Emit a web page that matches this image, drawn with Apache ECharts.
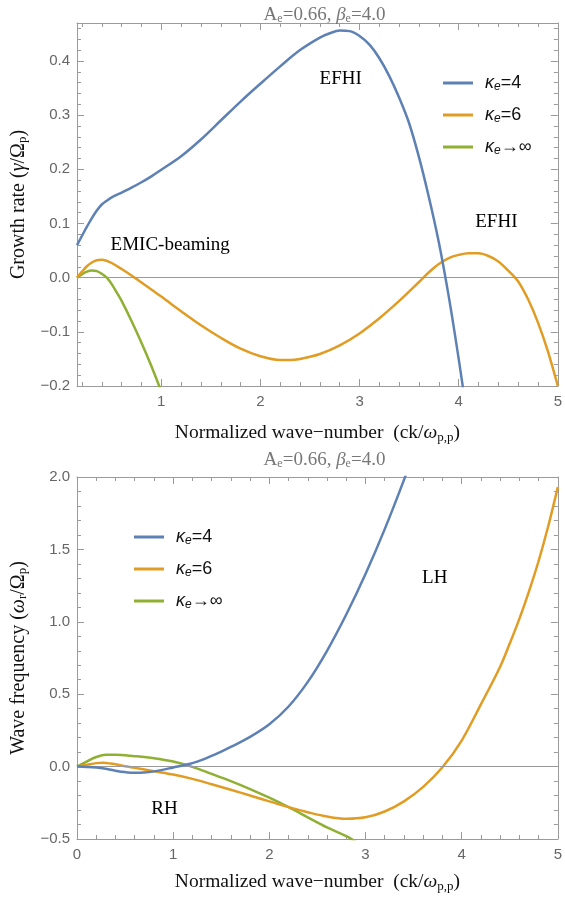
<!DOCTYPE html>
<html><head><meta charset="utf-8">
<script src="https://cdn.jsdelivr.net/npm/echarts@6/dist/echarts.min.js"></script>
<style>html,body{margin:0;padding:0;background:#fff}#c{width:565px;height:900px}</style>
</head><body><div id="c"></div>
<script>
// ---------- data ----------
const seriesNames = ['k4', 'k6', 'kinf'];
const colors = ['#5E81B5', '#E19C24', '#8FB032'];

// Growth rate (top panel)
const gammaK4X = [0.15,0.2,0.25,0.3,0.35,0.4,0.45,0.5,0.6,0.7,0.8,0.9,1.0,1.2,1.4,1.6,1.8,2.0,2.2,2.4,2.6,2.7,2.8,2.9,3.0,3.1,3.2,3.3,3.4,3.5,3.6,3.7,3.8,3.9,4.0,4.1];
const gammaK4Y = [0.060,0.077,0.094,0.110,0.124,0.135,0.142,0.148,0.157,0.166,0.176,0.187,0.199,0.224,0.255,0.290,0.325,0.358,0.390,0.420,0.443,0.451,0.456,0.455,0.446,0.430,0.405,0.372,0.332,0.285,0.222,0.148,0.065,-0.035,-0.150,-0.275];
const gammaK6X = [0.15,0.2,0.25,0.3,0.35,0.4,0.45,0.5,0.6,0.7,0.8,0.9,1.0,1.2,1.4,1.6,1.8,2.0,2.2,2.3,2.4,2.6,2.8,3.0,3.2,3.4,3.6,3.7,3.8,3.9,4.0,4.1,4.2,4.3,4.4,4.5,4.6,4.7,4.8,4.9,5.0];
const gammaK6Y = [0.000,0.011,0.021,0.028,0.032,0.033,0.031,0.027,0.016,0.004,-0.009,-0.022,-0.035,-0.062,-0.088,-0.111,-0.131,-0.145,-0.152,-0.152,-0.150,-0.141,-0.125,-0.103,-0.075,-0.043,-0.008,0.010,0.025,0.036,0.042,0.045,0.045,0.040,0.030,0.013,-0.007,-0.040,-0.083,-0.136,-0.200];
const gammaKinfX = [0.15,0.2,0.25,0.3,0.35,0.4,0.45,0.5,0.55,0.6,0.7,0.8,0.9,1.0,1.05];
const gammaKinfY = [0.000,0.006,0.011,0.013,0.012,0.007,0.000,-0.012,-0.027,-0.043,-0.080,-0.120,-0.163,-0.210,-0.235];

// Wave frequency (bottom panel)
const omegaK4X = [0,0.1,0.2,0.3,0.4,0.5,0.6,0.7,0.8,0.9,1.0,1.1,1.2,1.3,1.4,1.5,1.6,1.8,2.0,2.2,2.4,2.6,2.8,3.0,3.2,3.4,3.5];
const omegaK4Y = [0,-0.002,-0.006,-0.015,-0.028,-0.038,-0.043,-0.041,-0.033,-0.021,-0.006,0.008,0.024,0.046,0.074,0.104,0.136,0.205,0.292,0.415,0.585,0.800,1.050,1.330,1.640,1.980,2.170];
const omegaK6X = [0,0.1,0.2,0.27,0.35,0.5,0.6,0.8,1.0,1.2,1.4,1.6,1.8,2.0,2.2,2.4,2.6,2.8,3.0,3.2,3.4,3.6,3.8,4.0,4.2,4.4,4.5,4.6,4.7,4.8,4.9,5.0];
const omegaK6Y = [0,0.012,0.024,0.027,0.021,0.003,-0.008,-0.032,-0.055,-0.085,-0.122,-0.160,-0.200,-0.240,-0.280,-0.315,-0.345,-0.360,-0.350,-0.310,-0.240,-0.140,-0.005,0.180,0.430,0.690,0.850,1.020,1.210,1.420,1.660,1.930];
const omegaKinfX = [0,0.1,0.2,0.3,0.4,0.6,0.8,1.0,1.2,1.4,1.6,1.8,2.0,2.2,2.4,2.6,2.8,2.9];
const omegaKinfY = [0,0.035,0.066,0.082,0.082,0.072,0.058,0.035,-0.002,-0.050,-0.100,-0.155,-0.215,-0.280,-0.350,-0.420,-0.480,-0.520];

// axis ranges and ticks
const topXRange = [0.15, 5];
const topYRange = [-0.2, 0.47];
const botXRange = [0, 5];
const botYRange = [-0.5, 2.0];
const topXTicks = [1, 2, 3, 4, 5];
const topYTicks = [-0.2, -0.1, 0.0, 0.1, 0.2, 0.3, 0.4];
const botXTicks = [0, 1, 2, 3, 4, 5];
const botYTicks = [-0.5, 0.0, 0.5, 1.0, 1.5, 2.0];
const topXMinorStep = 0.2, topYMinorStep = 0.02, botXMinorStep = 0.2, botYMinorStep = 0.1;

// annotations
const topNotes = [{name: 'EFHI', value: [2.81, 0.367]}, {name: 'EFHI', value: [4.38, 0.102]}, {name: 'EMIC-beaming', value: [1.09, 0.060]}];
const botNotes = [{name: 'LH', value: [3.72, 1.30]}, {name: 'RH', value: [0.91, -0.29]}];

// ---------- helpers ----------
function pairs(xs, ys) { return xs.map((x, i) => [x, ys[i]]); }
function minors(range, step, majors) {
  const out = [];
  const start = Math.ceil(range[0] / step - 1e-9);
  const end = Math.floor(range[1] / step + 1e-9);
  for (let k = start; k <= end; k++) {
    const v = +(k * step).toFixed(6);
    if (!majors.some(m => Math.abs(m - v) < 1e-6)) out.push(v);
  }
  return out;
}
const FRAME = '#9a9a9a';
const SANS = '"Liberation Sans", Arial, sans-serif';
const SERIF = '"Liberation Serif", "Times New Roman", serif';
const fmtNum = (d) => (v) => (v < 0 ? '−' : '') + Math.abs(v).toFixed(d);

function richName(sz, sub) {
  return {
    n: {fontFamily: SERIF, fontSize: sz, color: '#111', lineHeight: 22, fontWeight: 'normal'},
    i: {fontFamily: SERIF, fontSize: sz, color: '#111', fontStyle: 'italic', lineHeight: 22, fontWeight: 'normal'},
    s: {fontFamily: SERIF, fontSize: sub, color: '#111', verticalAlign: 'bottom', lineHeight: 9, fontWeight: 'normal'}
  };
}

function xAxes(grid, range, majors, minorStep, labelDigits, name, gap) {
  const minorVals = minors(range, minorStep, majors);
  const base = {type: 'value', gridIndex: grid, min: range[0], max: range[1], splitLine: {show: false}};
  return [
    Object.assign({}, base, {
      position: 'bottom',
      axisLine: {show: true, onZero: false, lineStyle: {color: FRAME, width: 1}},
      axisTick: {show: true, inside: true, length: 7, customValues: majors, lineStyle: {color: FRAME}},
      axisLabel: {show: true, customValues: majors, margin: 8, color: '#666', fontFamily: SANS, fontSize: 15, formatter: fmtNum(labelDigits)},
      name: name, nameLocation: 'middle', nameGap: gap,
      nameTextStyle: {rich: richName(19.5, 13)}
    }),
    Object.assign({}, base, {
      position: 'bottom', axisLine: {show: false, onZero: false},
      axisTick: {show: true, inside: true, length: 4, customValues: minorVals, lineStyle: {color: FRAME}},
      axisLabel: {show: false}
    }),
    Object.assign({}, base, {
      position: 'top', axisLine: {show: true, onZero: false, lineStyle: {color: FRAME, width: 1}},
      axisTick: {show: true, inside: true, length: 7, customValues: majors, lineStyle: {color: FRAME}},
      axisLabel: {show: false}
    }),
    Object.assign({}, base, {
      position: 'top', axisLine: {show: false, onZero: false},
      axisTick: {show: true, inside: true, length: 4, customValues: minorVals, lineStyle: {color: FRAME}},
      axisLabel: {show: false}
    })
  ];
}
function yAxes(grid, range, majors, minorStep, labelDigits, name) {
  const minorVals = minors(range, minorStep, majors);
  const base = {type: 'value', gridIndex: grid, min: range[0], max: range[1], splitLine: {show: false}};
  return [
    Object.assign({}, base, {
      position: 'left',
      axisLine: {show: true, onZero: false, lineStyle: {color: FRAME, width: 1}},
      axisTick: {show: true, inside: true, length: 7, customValues: majors, lineStyle: {color: FRAME}},
      axisLabel: {show: true, customValues: majors, margin: 7, color: '#666', fontFamily: SANS, fontSize: 15, formatter: fmtNum(labelDigits)},
      name: name, nameLocation: 'middle', nameGap: 46, nameRotate: 90,
      nameTextStyle: {rich: richName(20, 13)}
    }),
    Object.assign({}, base, {
      position: 'left', axisLine: {show: false, onZero: false},
      axisTick: {show: true, inside: true, length: 4, customValues: minorVals, lineStyle: {color: FRAME}},
      axisLabel: {show: false}
    }),
    Object.assign({}, base, {
      position: 'right', axisLine: {show: true, onZero: false, lineStyle: {color: FRAME, width: 1}},
      axisTick: {show: true, inside: true, length: 7, customValues: majors, lineStyle: {color: FRAME}},
      axisLabel: {show: false}
    }),
    Object.assign({}, base, {
      position: 'right', axisLine: {show: false, onZero: false},
      axisTick: {show: true, inside: true, length: 4, customValues: minorVals, lineStyle: {color: FRAME}},
      axisLabel: {show: false}
    })
  ];
}

const xName = '{n|Normalized wave−number  (ck/}{i|ω}{s|p,p}{n|)}';
const topYName = '{n|Growth rate (}{i|γ}{n|/Ω}{s|p}{n|)}';
const botYName = '{n|Wave frequency (}{i|ω}{s|r}{n|/Ω}{s|p}{n|)}';
const titleText = '{n|A}{s|e}{n|=0.66, }{i|β}{s|e}{n|=4.0}';
const titleRich = {
  n: {fontFamily: SERIF, fontSize: 19, color: '#777', lineHeight: 20, fontWeight: 'normal'},
  i: {fontFamily: SERIF, fontSize: 19, color: '#777', fontStyle: 'italic', lineHeight: 20, fontWeight: 'normal'},
  s: {fontFamily: SERIF, fontSize: 12, color: '#777', verticalAlign: 'bottom', lineHeight: 8, fontWeight: 'normal'}
};
const legendLabel = {k4: '=4', k6: '=6', kinf: '→∞'};
const legendRich = {
  k: {fontFamily: SANS, fontSize: 18, fontStyle: 'italic', color: '#111', lineHeight: 20},
  e: {fontFamily: SANS, fontSize: 12, fontStyle: 'italic', color: '#111', verticalAlign: 'bottom', lineHeight: 8},
  t: {fontFamily: SANS, fontSize: 18, color: '#111', lineHeight: 20}
};
function legendCfg(left, top) {
  return {
    data: seriesNames, orient: 'vertical', left: left, top: top,
    icon: 'rect', itemWidth: 30, itemHeight: 3, itemGap: 13,
    selectedMode: false,
    formatter: (n) => '{k|κ}{e|e}{t|' + legendLabel[n] + '}',
    textStyle: {rich: legendRich, padding: [0, 0, 0, 7]}
  };
}

const topData = [pairs(gammaK4X, gammaK4Y), pairs(gammaK6X, gammaK6Y), pairs(gammaKinfX, gammaKinfY)];
const botData = [pairs(omegaK4X, omegaK4Y), pairs(omegaK6X, omegaK6Y), pairs(omegaKinfX, omegaKinfY)];

const series = [];
function addLines(data, xi, yi) {
  data.forEach((d, k) => {
    series.push({
      type: 'line', name: seriesNames[k], data: d, xAxisIndex: xi, yAxisIndex: yi,
      showSymbol: false, symbol: 'none', smooth: 0.35, clip: true,
      lineStyle: {color: colors[k], width: 2.5}, itemStyle: {color: colors[k]},
      z: 3 + (2 - k),
      markLine: k === 0 ? {silent: true, symbol: 'none', label: {show: false},
        lineStyle: {color: '#999', width: 1, type: 'solid'}, data: [{yAxis: 0}], animation: false} : undefined
    });
  });
}
addLines(topData, 0, 0);
addLines(botData, 4, 4);
function addNotes(notes, xi, yi) {
  series.push({
    type: 'scatter', name: 'notes', data: notes, xAxisIndex: xi, yAxisIndex: yi,
    symbol: 'circle', symbolSize: 1, itemStyle: {color: 'rgba(0,0,0,0)', opacity: 1}, silent: true, z: 10,
    label: {show: true, position: 'inside', formatter: (p) => p.name, color: '#000', opacity: 1, fontFamily: SERIF, fontSize: 19}
  });
}
addNotes(topNotes, 0, 0);
addNotes(botNotes, 4, 4);

const chart = echarts.init(document.getElementById('c'), null, {renderer: 'canvas'});
chart.setOption({
  animation: false,
  backgroundColor: '#fff',
  title: [
    {text: titleText, left: 319.5, top: 0, textAlign: 'center', textStyle: {rich: titleRich, fontWeight: 'normal'}},
    {text: titleText, left: 319.5, top: 445, textAlign: 'center', textStyle: {rich: titleRich, fontWeight: 'normal'}}
  ],
  legend: [legendCfg(438, 69), legendCfg(129, 523)],
  grid: [
    {left: 77, right: 3, top: 23, height: 363},
    {left: 77, right: 3, top: 477, height: 362}
  ],
  xAxis: [].concat(
    xAxes(0, topXRange, topXTicks, topXMinorStep, 0, xName, 36),
    xAxes(1, botXRange, botXTicks, botXMinorStep, 0, xName, 32)
  ),
  yAxis: [].concat(
    yAxes(0, topYRange, topYTicks, topYMinorStep, 1, topYName),
    yAxes(1, botYRange, botYTicks, botYMinorStep, 1, botYName)
  ),
  series: series
});
</script>
</body></html>
